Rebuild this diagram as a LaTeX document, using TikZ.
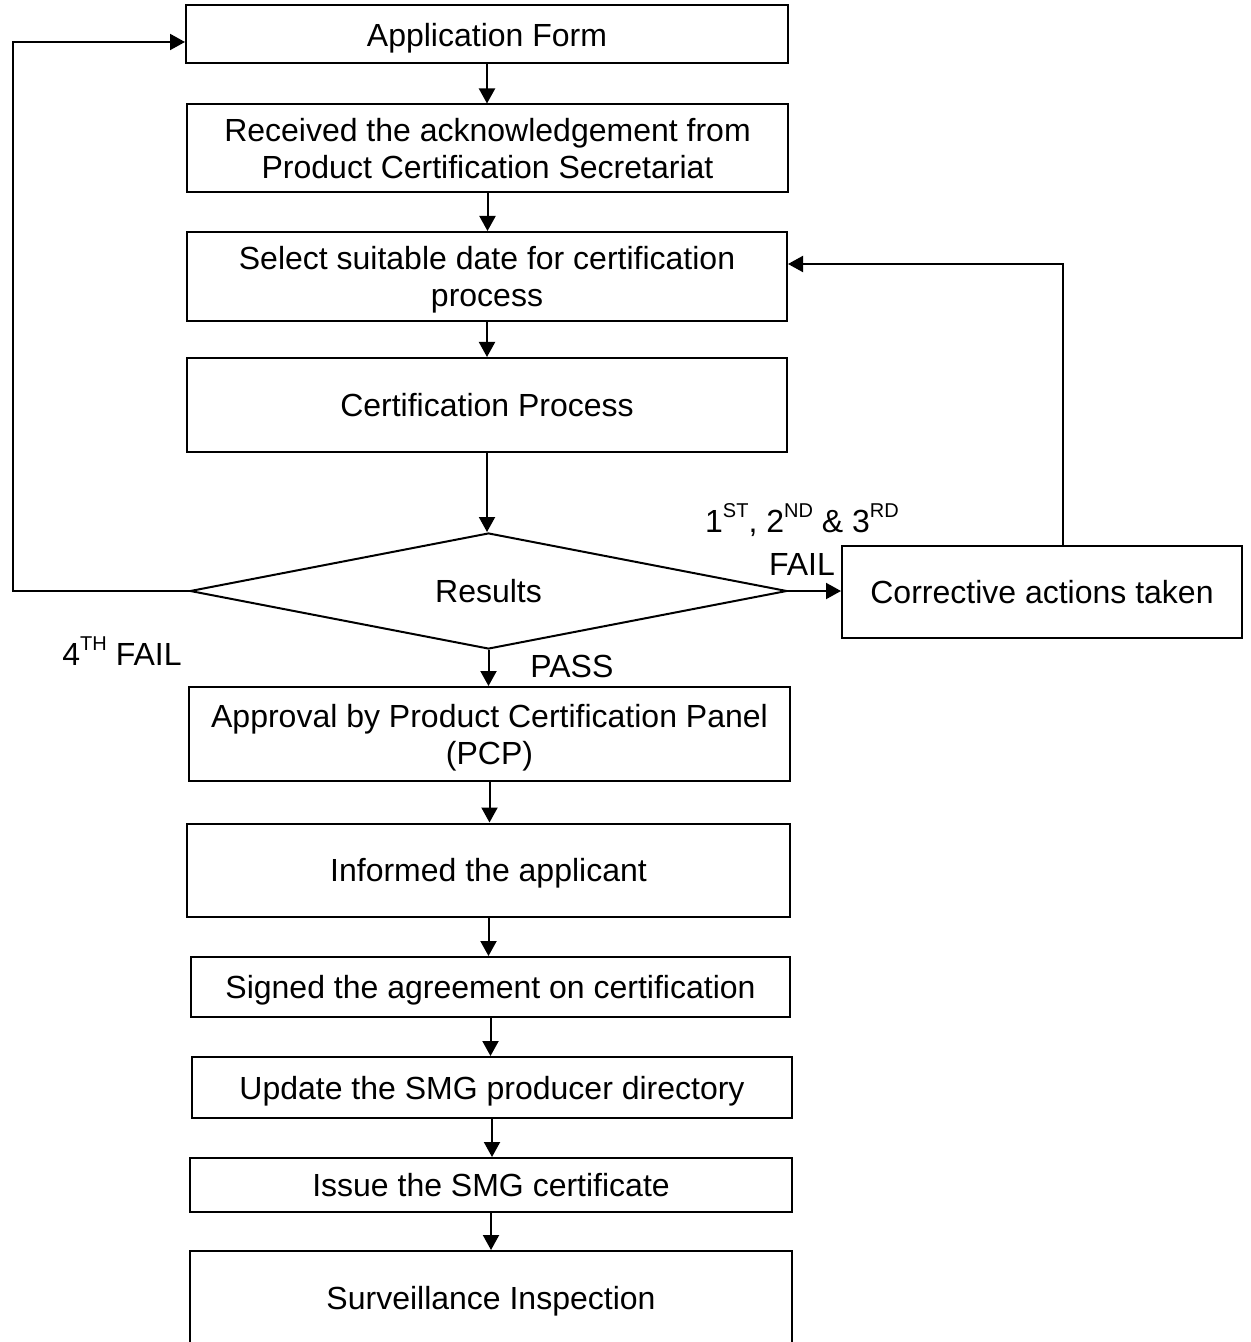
\documentclass[tikz,border=0pt]{standalone}
\usepackage{fontspec}
\setmainfont{Liberation Sans}
\usetikzlibrary{arrows.meta,shapes.geometric}
\newcommand{\sps}[1]{\raisebox{7.5pt}{\fontsize{10}{10}\selectfont #1}}
\tikzset{
  txt/.style={font=\fontsize{16}{18.5}\selectfont},
  box/.style={txt, draw, line width=1pt, rectangle, inner sep=0pt, align=center, text depth=0pt},
  flow/.style={line width=1pt, -{Triangle[length=7.5pt,width=8pt]}},
  lbl/.style={txt, inner sep=0pt}
}
\begin{document}
\begin{tikzpicture}[x=0.5pt,y=-0.5pt]
\useasboundingbox (0,0) rectangle (1250,1342);
% boxes (centres in px, sizes in pt)
\node[box, minimum width=301pt, minimum height=29pt] (b1) at (487,34.5) {Application Form};
\node[box, minimum width=300.5pt, minimum height=44pt] (b2) at (487.5,148.5) {Received the acknowledgement from\\Product Certification Secretariat};
\node[box, minimum width=300pt, minimum height=44.5pt] (b3) at (487,276.5) {Select suitable date for certification\\process};
\node[box, minimum width=300pt, minimum height=47pt] (b4) at (487,405) {Certification Process};
\node[txt, draw, line width=1pt, shape=diamond, aspect=5.15, inner sep=0pt, text depth=0pt, minimum width=298.5pt, minimum height=58pt] (res) at (488.5,591) {Results};
\node[box, minimum width=200pt, minimum height=46pt] (corr) at (1042,592) {Corrective actions taken};
\node[box, minimum width=300.5pt, minimum height=47pt] (b5) at (489.5,734) {Approval by Product Certification Panel\\(PCP)};
\node[box, minimum width=301.5pt, minimum height=46.5pt] (b6) at (488.5,870) {Informed the applicant};
\node[box, minimum width=299.5pt, minimum height=30pt] (b7) at (490.5,987) {Signed the agreement on certification};
\node[box, minimum width=300pt, minimum height=30.5pt] (b8) at (492,1087.5) {Update the SMG producer directory};
\node[box, minimum width=301pt, minimum height=27pt] (b9) at (491,1185) {Issue the SMG certificate};
\node[box, minimum width=301pt, minimum height=46.5pt] (b10) at (491,1297.5) {Surveillance Inspection};
% labels
\node[lbl, align=center, anchor=base, font=\fontsize{16}{21.5}\selectfont] (lfail) at (802,575) {1\sps{ST}, 2\sps{ND} \& 3\sps{RD}\\FAIL};
\node[lbl, anchor=base] (l4) at (122,665) {4\sps{TH} FAIL};
\node[lbl, anchor=base west] (lpass) at (530,677) {PASS};
% main flow
\draw[flow] (b1.south) -- (b1.south |- b2.north);
\draw[flow] (b2.south) -- (b2.south |- b3.north);
\draw[flow] (b3.south) -- (b3.south |- b4.north);
\draw[flow] (b4.south) -- (b4.south |- res.north);
\draw[flow] (res.south) -- (res.south |- b5.north);
\draw[flow] (b5.south) -- (b5.south |- b6.north);
\draw[flow] (b6.south) -- (b6.south |- b7.north);
\draw[flow] (b7.south) -- (b7.south |- b8.north);
\draw[flow] (b8.south) -- (b8.south |- b9.north);
\draw[flow] (b9.south) -- (b9.south |- b10.north);
% fail branches
\draw[flow] (res.east) -- (corr.west |- res.east);
\coordinate (fbk) at (1063,264);
\draw[flow] (corr.north -| fbk) -- (fbk) -- (fbk -| b3.east);
\coordinate (loopL) at (13,42);
\draw[flow] (res.west) -| (loopL) -- (loopL -| b1.west);
\end{tikzpicture}
\end{document}
